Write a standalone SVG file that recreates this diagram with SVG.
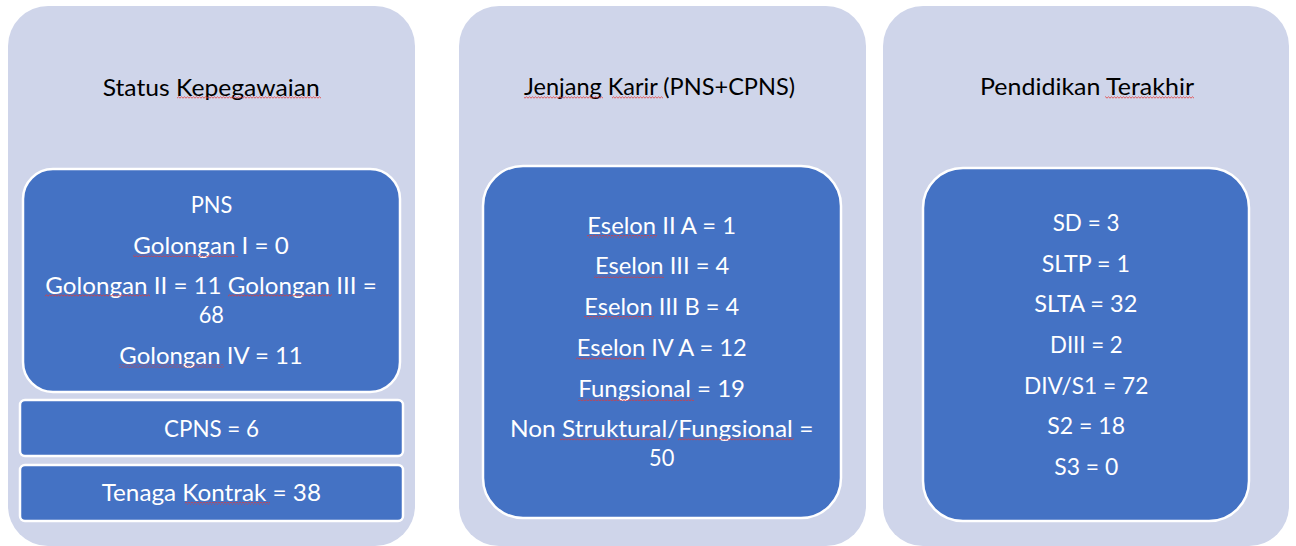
<svg xmlns="http://www.w3.org/2000/svg" width="1296" height="546" viewBox="0 0 1296 546">
<style>
.panel{fill:#CFD5EA;}
.box{fill:#4472C4;stroke:#FFFFFF;stroke-width:2.5;}
.t{font-family:Lato,"Liberation Sans",sans-serif;font-size:24px;}
.title{fill:#000000;}
.w{fill:#FFFFFF;}
.sq{fill:url(#squig);}
</style>
<defs>
<pattern id="squig" x="0" y="0" width="3" height="3" patternUnits="userSpaceOnUse">
<path d="M0 2.2 L1.5 0.8 L3 2.2" fill="none" stroke="#E53935" stroke-width="0.8"/>
</pattern>
</defs>
<rect width="1296" height="546" fill="#FFFFFF"/>
<g id="panel-status">
<rect class="panel" x="8" y="6" width="407" height="540" rx="40" ry="40"/>
<text class="t title" x="102.7" y="95.5" textLength="217" lengthAdjust="spacingAndGlyphs">Status Kepegawaian</text>
<rect class="sq" x="177" y="96" width="144" height="3"/>
</g>
<g id="node-pns">
<rect class="box" x="23" y="169" width="377" height="223" rx="30" ry="30"/>
<text class="t w" x="190.7" y="213" textLength="41.6" lengthAdjust="spacingAndGlyphs">PNS</text>
<text class="t w" x="133.3" y="253.5" textLength="155.4" lengthAdjust="spacingAndGlyphs">Golongan I = 0</text>
<text class="t w" x="45.3" y="293.5" textLength="331.4" lengthAdjust="spacingAndGlyphs">Golongan II = 11 Golongan III =</text>
<text class="t w" x="198.7" y="322.5" textLength="25.3" lengthAdjust="spacingAndGlyphs">68</text>
<text class="t w" x="119.3" y="363.5" textLength="183.4" lengthAdjust="spacingAndGlyphs">Golongan IV = 11</text>
<rect class="sq" x="133" y="254" width="105" height="3"/>
<rect class="sq" x="45" y="294" width="105" height="3"/>
<rect class="sq" x="228" y="294" width="104" height="3"/>
<rect class="sq" x="119" y="364.5" width="105" height="3"/>
</g>
<g id="node-cpns">
<rect class="box" x="20" y="400" width="383" height="56" rx="5" ry="5"/>
<text class="t w" x="164" y="437" textLength="95" lengthAdjust="spacingAndGlyphs">CPNS = 6</text>
</g>
<g id="node-kontrak">
<rect class="box" x="20" y="465" width="383" height="56" rx="5" ry="5"/>
<text class="t w" x="101.7" y="501" textLength="219.3" lengthAdjust="spacingAndGlyphs">Tenaga Kontrak = 38</text>
<rect class="sq" x="185" y="502" width="85" height="3"/>
</g>
<g id="panel-jenjang">
<rect class="panel" x="459" y="6" width="407" height="540" rx="40" ry="40"/>
<text class="t title" x="524" y="95" textLength="271" lengthAdjust="spacingAndGlyphs">Jenjang Karir (PNS+CPNS)</text>
<rect class="sq" x="524" y="96" width="79" height="3"/>
<rect class="sq" x="612" y="96" width="51" height="3"/>
</g>
<g id="node-jenjang">
<rect class="box" x="483" y="166" width="358" height="352" rx="40" ry="40"/>
<text class="t w" x="587.3" y="234" textLength="148.7" lengthAdjust="spacingAndGlyphs">Eselon II A = 1</text>
<text class="t w" x="595" y="274" textLength="134.3" lengthAdjust="spacingAndGlyphs">Eselon III = 4</text>
<text class="t w" x="584.3" y="315" textLength="155" lengthAdjust="spacingAndGlyphs">Eselon III B = 4</text>
<text class="t w" x="576.7" y="356" textLength="170" lengthAdjust="spacingAndGlyphs">Eselon IV A = 12</text>
<text class="t w" x="578.3" y="397" textLength="166.7" lengthAdjust="spacingAndGlyphs">Fungsional = 19</text>
<text class="t w" x="510" y="437" textLength="303.3" lengthAdjust="spacingAndGlyphs">Non Struktural/Fungsional =</text>
<text class="t w" x="649" y="465.5" textLength="25.3" lengthAdjust="spacingAndGlyphs">50</text>
<rect class="sq" x="587" y="235" width="70" height="3"/>
<rect class="sq" x="594" y="275" width="70" height="3"/>
<rect class="sq" x="584" y="316" width="70" height="3"/>
<rect class="sq" x="576" y="357" width="70" height="3"/>
<rect class="sq" x="578" y="398" width="116" height="3"/>
<rect class="sq" x="560" y="437.5" width="107" height="3"/>
<rect class="sq" x="678" y="437.5" width="116" height="3"/>
</g>
<g id="panel-pendidikan">
<rect class="panel" x="883" y="6" width="406" height="540" rx="40" ry="40"/>
<text class="t title" x="980" y="95" textLength="214" lengthAdjust="spacingAndGlyphs">Pendidikan Terakhir</text>
<rect class="sq" x="1105" y="96" width="89" height="3"/>
</g>
<g id="node-pendidikan">
<rect class="box" x="923" y="168" width="326" height="353" rx="40" ry="40"/>
<text class="t w" x="1052.7" y="231" textLength="66.7" lengthAdjust="spacingAndGlyphs">SD = 3</text>
<text class="t w" x="1041.7" y="272" textLength="88.3" lengthAdjust="spacingAndGlyphs">SLTP = 1</text>
<text class="t w" x="1034.3" y="312" textLength="103" lengthAdjust="spacingAndGlyphs">SLTA = 32</text>
<text class="t w" x="1050" y="353" textLength="72.7" lengthAdjust="spacingAndGlyphs">DIII = 2</text>
<text class="t w" x="1024" y="394" textLength="124.3" lengthAdjust="spacingAndGlyphs">DIV/S1 = 72</text>
<text class="t w" x="1047.3" y="434" textLength="77.7" lengthAdjust="spacingAndGlyphs">S2 = 18</text>
<text class="t w" x="1054.3" y="475" textLength="64" lengthAdjust="spacingAndGlyphs">S3 = 0</text>
</g>
<g id="connectors"></g>
</svg>
